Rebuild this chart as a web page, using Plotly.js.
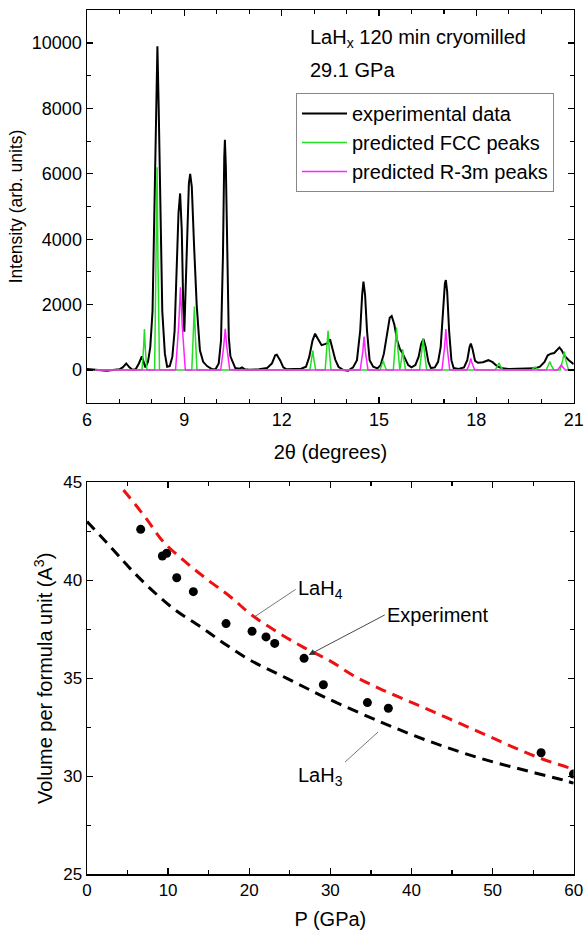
<!DOCTYPE html>
<html>
<head>
<meta charset="utf-8">
<script src="https://cdn.plot.ly/plotly-3.0.1.min.js"></script>
<style>html,body{margin:0;padding:0;background:#fff;}#chart{width:584px;height:930px;}</style>
</head>
<body>
<div id="chart"></div>
<script>
// ---------- Top panel: XRD pattern ----------
const expTheta = [6.00,6.20,6.40,6.60,6.80,7.00,7.10,7.21,7.30,7.40,7.50,7.60,7.69,7.74,7.80,7.88,7.95,8.02,8.08,8.13,8.17,8.21,8.26,8.32,8.40,8.47,8.55,8.63,8.70,8.76,8.82,8.87,8.92,8.97,9.00,9.04,9.09,9.14,9.18,9.23,9.30,9.38,9.48,9.58,9.70,9.85,9.96,10.06,10.13,10.19,10.23,10.25,10.28,10.32,10.37,10.42,10.50,10.57,10.70,10.78,10.86,11.00,11.30,11.55,11.70,11.80,11.85,11.95,12.05,12.15,12.40,12.60,12.75,12.85,12.95,13.03,13.12,13.23,13.33,13.41,13.49,13.56,13.65,13.75,13.90,14.05,14.20,14.32,14.42,14.48,14.52,14.57,14.63,14.71,14.82,14.95,15.05,15.15,15.25,15.33,15.39,15.47,15.56,15.64,15.72,15.80,15.90,16.00,16.12,16.22,16.30,16.37,16.44,16.52,16.60,16.72,16.82,16.90,16.97,17.03,17.06,17.10,17.16,17.23,17.30,17.45,17.62,17.72,17.79,17.83,17.88,17.96,18.05,18.20,18.37,18.50,18.65,18.80,19.00,19.30,19.60,19.80,19.96,20.10,20.20,20.30,20.40,20.48,20.56,20.63,20.72,20.85,21.00];
const expInt = [30,20,-10,-20,0,20,80,200,90,10,20,200,420,250,80,250,700,1800,5000,8500,9900,8000,4500,1800,500,100,120,400,1200,3000,4800,5400,4300,1800,1170,2500,4500,5700,6000,5600,3800,2000,600,250,120,30,20,200,900,3500,6500,7040,6200,3500,1000,420,250,60,40,80,20,10,20,60,200,450,470,300,80,20,30,40,100,400,900,1110,950,760,790,820,940,700,320,100,0,-20,80,300,1200,2300,2700,2300,1200,300,100,50,150,500,1200,1600,1650,1400,900,650,520,350,150,80,150,400,800,950,700,250,60,80,250,700,1800,2650,2750,2400,1200,300,60,30,80,300,700,810,650,280,220,240,300,240,110,50,30,30,40,50,100,250,450,500,520,620,690,600,430,300,180];

const fccTheta = [6.25,7.695,7.744,7.77,7.796,7.845,8.085,8.134,8.16,8.186,8.235,9.23,9.282,9.31,9.338,9.39,12.87,12.928,12.96,12.992,13.05,13.34,13.398,13.43,13.462,13.52,15.03,15.095,15.13,15.165,15.23,15.44,15.505,15.54,15.575,15.64,15.698,15.73,15.762,15.82,16.25,16.32,16.36,16.40,16.47,18.58,18.66,18.70,18.74,18.82,19.69,19.77,19.81,19.85,19.93,20.15,20.23,20.27,20.31,20.39,20.58,20.665,20.71,20.755,20.84,21.00];
const fccInt = [0,0,690,1250,690,0,0,3410,6200,3410,0,0,1070,1940,1070,0,0,325,590,325,0,0,660,1200,660,0,0,157,285,157,0,0,712,1295,712,0,347,630,347,0,0,523,950,523,0,0,118,215,118,0,0,50,90,50,0,0,140,255,140,0,0,308,560,308,0,0];

const r3mTheta = [6.25,8.73,8.828,8.88,8.932,9.03,10.12,10.21,10.26,10.31,10.40,14.42,14.50,14.54,14.58,14.66,16.94,17.02,17.06,17.10,17.18,17.71,17.79,17.83,17.87,17.95,20.50,20.58,20.62,20.66,20.74,21.00];
const r3mInt = [0,0,1390,2530,1390,0,0,693,1260,693,0,0,561,1020,561,0,0,688,1250,688,0,0,196,357,196,0,0,88,160,88,0,0];

const legendNames = ["experimental data", "predicted FCC peaks", "predicted R-3m peaks"];

// ---------- Bottom panel: volume vs pressure ----------
const expP = [6.62,9.29,9.82,11.06,13.11,17.14,20.35,22.07,23.14,26.76,29.14,34.57,37.15,55.98,59.97];
const expV = [42.60,41.24,41.38,40.13,39.42,37.79,37.40,37.11,36.78,36.02,34.67,33.76,33.47,31.20,30.12];

const lah4P = [4.5,7.2,9.4,12.1,14.8,17.7,20.3,23.7,26.7,29.9,33.1,36.2,39.5,42.8,46.1,49.4,52.6,55.9,60.0];
const lah4V = [44.61,43.21,41.97,40.95,40.05,39.15,38.23,37.30,36.58,35.90,35.08,34.45,33.86,33.27,32.67,32.07,31.48,30.92,30.36];

const lah3P = [0,2.9,5.3,8.0,10.9,14.0,16.9,20.1,23.4,26.7,29.6,36.1,42.3,48.5,54.6,58.7,60.0];
const lah3V = [43.0,41.71,40.61,39.50,38.48,37.63,36.78,35.93,35.25,34.57,33.98,32.79,31.77,30.92,30.24,29.81,29.65];

const FONT = "Liberation Sans, Arial, sans-serif";

const traces = [
  {x: expTheta, y: expInt, type: "scatter", mode: "lines", name: legendNames[0],
   line: {color: "#000000", width: 2}, xaxis: "x", yaxis: "y"},
  {x: fccTheta, y: fccInt, type: "scatter", mode: "lines", name: legendNames[1],
   line: {color: "#22dd22", width: 1.5}, xaxis: "x", yaxis: "y"},
  {x: r3mTheta, y: r3mInt, type: "scatter", mode: "lines", name: legendNames[2],
   line: {color: "#ff22ff", width: 1.5}, xaxis: "x", yaxis: "y"},
  {x: lah4P, y: lah4V, type: "scatter", mode: "lines", showlegend: false,
   line: {color: "#ee1111", width: 3, dash: "11px,7px", shape: "spline"}, xaxis: "x2", yaxis: "y2"},
  {x: lah3P, y: lah3V, type: "scatter", mode: "lines", showlegend: false,
   line: {color: "#000000", width: 3, dash: "11px,7px", shape: "spline"}, xaxis: "x2", yaxis: "y2"},
  {x: expP, y: expV, type: "scatter", mode: "markers", showlegend: false,
   marker: {color: "#000000", size: 9}, xaxis: "x2", yaxis: "y2"}
];

function axisBase(tickSize) {
  return {
    showline: true, linecolor: "#000", linewidth: 1.5, mirror: "ticks",
    ticks: "inside", ticklen: 6, tickwidth: 1.3, tickcolor: "#000",
    showgrid: false, zeroline: false,
    tickfont: {family: FONT, size: tickSize, color: "#000"}
  };
}
function minorTicks(d) {
  return {dtick: d, ticks: "inside", ticklen: 4, tickcolor: "#000", tickwidth: 1.2, showgrid: false};
}
const xDom = [87/584, 573.7/584];

const layout = {
  width: 584, height: 930,
  margin: {l: 0, r: 0, t: 0, b: 0},
  paper_bgcolor: "#fff", plot_bgcolor: "#fff",
  font: {family: FONT, color: "#000"},
  showlegend: true,
  legend: {x: 296/584, y: 1 - 93/930, xanchor: "left", yanchor: "top",
           bgcolor: "#fff", bordercolor: "#888", borderwidth: 1,
           itemwidth: 45,
           font: {family: FONT, size: 20, color: "#000"}},
  xaxis: Object.assign(axisBase(18), {
    domain: xDom, anchor: "y", range: [6, 21], tick0: 6, dtick: 3,
    minor: minorTicks(1),
    title: {text: "2θ (degrees)", font: {family: FONT, size: 20}, standoff: 16}
  }),
  yaxis: Object.assign(axisBase(18), {
    domain: [1 - 402.7/930, 1 - 10.3/930], anchor: "x", range: [-1000, 11000],
    tick0: 0, dtick: 2000, tickformat: "d",
    minor: minorTicks(1000),
    title: {text: "Intensity (arb. units)", font: {family: FONT, size: 17.5}, standoff: 4}
  }),
  xaxis2: Object.assign(axisBase(17), {
    domain: xDom, anchor: "y2", range: [0, 60], tick0: 0, dtick: 10,
    minor: minorTicks(5),
    title: {text: "P (GPa)", font: {family: FONT, size: 20}, standoff: 15}
  }),
  yaxis2: Object.assign(axisBase(17), {
    domain: [1 - 874.3/930, 1 - 482.3/930], anchor: "x2", range: [25, 45],
    tick0: 25, dtick: 5,
    minor: minorTicks(2.5),
    title: {text: "Volume per formula unit (A<sup>3</sup>)", font: {family: FONT, size: 20}, standoff: 5}
  }),
  annotations: [
    {xref: "x", yref: "y", x: 12.81, y: 10130, xanchor: "left", yanchor: "middle", showarrow: false,
     text: "LaH<sub>x</sub> 120 min cryomilled", font: {family: FONT, size: 20, color: "#000"}},
    {xref: "x", yref: "y", x: 12.81, y: 9180, xanchor: "left", yanchor: "middle", showarrow: false,
     text: "29.1 GPa", font: {family: FONT, size: 20, color: "#000"}},
    {xref: "x2", yref: "y2", x: 20.55, y: 38.11, ax: 42, ay: -28, xanchor: "left", yanchor: "middle",
     showarrow: true, arrowhead: 0, arrowwidth: 0.8, arrowcolor: "#555",
     text: "LaH<sub>4</sub>", font: {family: FONT, size: 20, color: "#000"}},
    {xref: "x2", yref: "y2", x: 27.33, y: 36.19, ax: 76, ay: -40, xanchor: "left", yanchor: "middle",
     showarrow: true, arrowhead: 2, arrowsize: 1.4, arrowwidth: 0.9, arrowcolor: "#333",
     text: "Experiment", font: {family: FONT, size: 20, color: "#000"}},
    {xref: "x2", yref: "y2", x: 35.88, y: 32.26, ax: -33, ay: 30, xanchor: "right", yanchor: "top",
     showarrow: true, arrowhead: 0, arrowwidth: 0.8, arrowcolor: "#555",
     text: "LaH<sub>3</sub>", font: {family: FONT, size: 20, color: "#000"}}
  ]
};

Plotly.newPlot("chart", traces, layout, {displayModeBar: false, staticPlot: true});
</script>
</body>
</html>
